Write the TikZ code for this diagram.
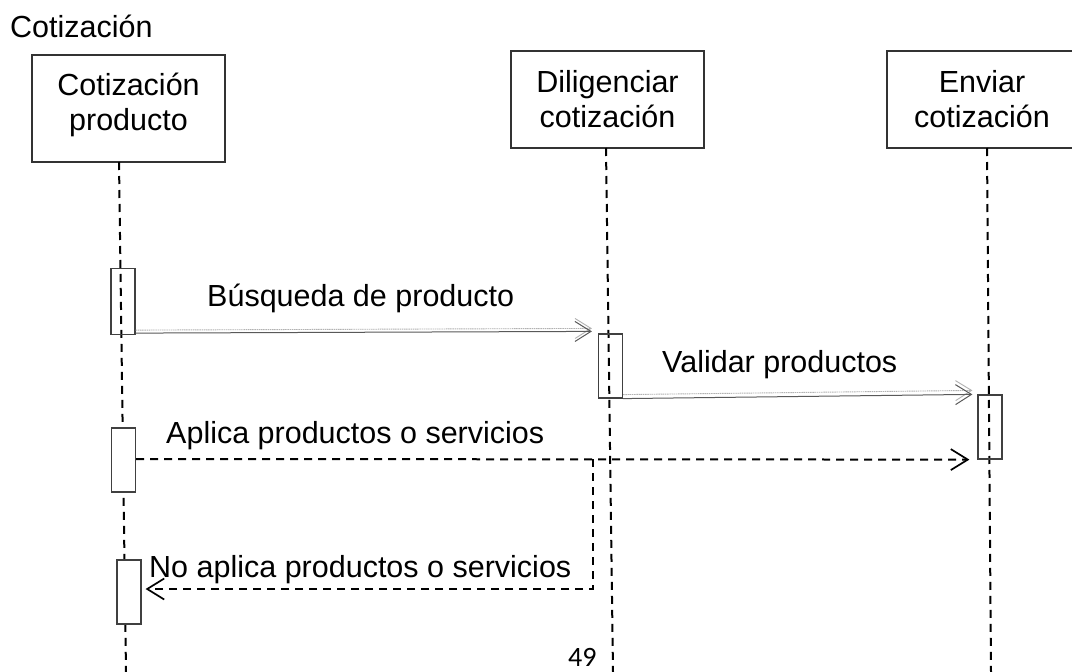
\documentclass[tikz,border=0pt]{standalone}
\usepackage{fontspec}
\setmainfont{Liberation Sans}
\newfontfamily\pagefont{Carlito}
\usetikzlibrary{arrows.meta}
\begin{document}
\begin{tikzpicture}[x=1pt,y=-1pt,
  lbl/.style={font=\fontsize{30.5}{35}\selectfont, inner sep=0pt, anchor=base west},
  headbox/.style={draw=black!80, line width=1.2pt, align=center, inner sep=0pt,
    font=\fontsize{30.5}{35}\selectfont},
  actbox/.style={draw=black!75, line width=1.2pt, minimum width=24pt, minimum height=64pt, inner sep=0pt},
  lifeline/.style={draw=black, line width=2pt, dash pattern=on 8pt off 6pt},
  gmsg/.style={draw=black!65, line width=1pt, -{Straight Barb[length=16pt,width=20pt,line width=1pt]}},
  gmsgb/.style={draw=black!30, line width=0.9pt, dash pattern=on 1.5pt off 0.7pt, -{Straight Barb[length=16pt,width=20pt,line width=0.9pt]}},
  dmsg/.style={draw=black, line width=2pt, dash pattern=on 8pt off 6pt, -{Straight Barb[length=17pt,width=21pt,line width=1.7pt]}}]
\useasboundingbox (0,0) rectangle (1072,672);
\clip (0,0) rectangle (1072,672);
\fill[white] (0,0) rectangle (1072,672);

% title
\node[lbl] (title) at (10,37) {Cotización};

% header boxes
\node[headbox, minimum width=193pt, minimum height=107pt, text depth=12.5pt] (h1) at (128.5,108.5) {Cotización\\producto};
\node[headbox, minimum width=193pt, minimum height=97pt] (h2) at (607.5,99.5) {Diligenciar\\cotización};
\node[headbox, minimum width=190pt, minimum height=97pt] (h3) at (982,99.5) {Enviar\\cotización};

% lifelines
\coordinate (l1t) at (119,162);
\coordinate (l1b) at (126,672);
\coordinate (l2t) at (606,148);
\coordinate (l2b) at (613,672);
\coordinate (l3t) at (987,148);
\coordinate (l3b) at (991,672);
\draw[lifeline] (l1t) -- (l1b);
\draw[lifeline] (l2t) -- (l2b);
\draw[lifeline] (l3t) -- (l3b);

% activation boxes
\node[actbox, minimum height=66pt] (a1) at (123,301.5) {};
\node[actbox] (a2) at (610.5,366) {};
\node[actbox] (a3) at (990,427) {};
\node[actbox, fill=white] (a4) at (123.5,460) {};
\node[actbox, fill=white] (a5) at (129,592) {};

% messages
\draw[gmsgb] ([yshift=5pt]a1.south east) -- ([xshift=-6pt,yshift=5pt]a2.north west);
\draw[gmsg] ([yshift=2pt]a1.south east) -- ([xshift=-6pt,yshift=2pt]a2.north west);
\draw[gmsgb] ([yshift=4pt]a2.south east) -- ([xshift=-5pt,yshift=4pt]a3.north west);
\draw[gmsg] ([yshift=0pt]a2.south east) -- ([xshift=-5pt,yshift=0pt]a3.north west);

\coordinate (br) at (593,459);
\draw[dmsg] (a4.east |- br) -- ([xshift=-8pt]a3.south west);
\draw[dmsg] (br) |- ([xshift=4pt,yshift=3pt]a5.east);

% labels
\node[lbl] (m1) at (207,306.5) {Búsqueda de producto};
\node[lbl] (m2) at (662,372) {Validar productos};
\node[lbl] (m3) at (166,443) {Aplica productos o servicios};
\node[lbl] (m4) at (149,577) {No aplica productos o servicios};
\node[inner sep=0pt, anchor=base west, font=\pagefont\fontsize{28}{32}\selectfont] (pg) at (568,666) {49};
\end{tikzpicture}
\end{document}
